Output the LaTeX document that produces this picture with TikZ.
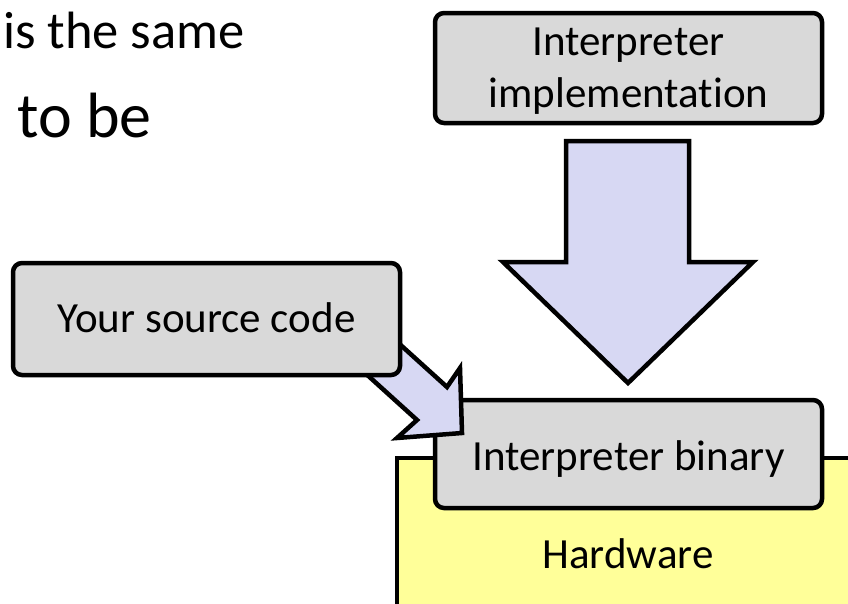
\documentclass[tikz,border=0pt]{standalone}
\usepackage{fontspec}
\setmainfont[Ligatures={NoCommon}]{Carlito}
\begin{document}
\begin{tikzpicture}[x=1pt,y=-1pt,
  box/.style={draw=black,line width=4.5pt,fill=boxgray,rounded corners=9pt,
    inner sep=0pt,align=center,font=\fontsize{43}{52}\selectfont},
  blockarrow/.style={draw=black,line width=4.5pt,fill=arrowblue,line join=miter},
  hw/.style={draw=black,line width=4.5pt,fill=hwyellow}]
\definecolor{boxgray}{HTML}{D9D9D9}
\definecolor{arrowblue}{HTML}{D7D8F3}
\definecolor{hwyellow}{HTML}{FFFF99}
\useasboundingbox (0,0) rectangle (848,603);
\clip (0,0) rectangle (848,603);
% top text
\node[anchor=base west,inner sep=0pt,font=\fontsize{52.5}{60}\selectfont] (t1) at (3,48) {is the same};
\node[anchor=base west,inner sep=0pt,font=\fontsize{64}{72}\selectfont] (t2) at (17,137) {to be};
% hardware
\draw[hw] (397,458) rectangle (880,640);
\node[inner sep=0pt,font=\fontsize{43}{52}\selectfont,anchor=base] (hwlabel) at (628,568) {Hardware};
% big arrow
\coordinate (ba1) at (566,141);
\coordinate (ba2) at (689,141);
\coordinate (ba3) at (689,262);
\coordinate (ba4) at (753,262);
\coordinate (ba5) at (628,383);
\coordinate (ba6) at (503,262);
\coordinate (ba7) at (566,262);
\draw[blockarrow] (ba1) -- (ba2) -- (ba3) -- (ba4) -- (ba5) -- (ba6) -- (ba7) -- cycle;
% interpreter binary
\node[box,minimum width=387pt,minimum height=108pt,text height=32pt,text depth=0pt] (bin) at (628.5,454) {Interpreter binary};
% small arrow
\coordinate (sa1) at (373,320);
\coordinate (sa2) at (447,387);
\coordinate (sa3) at (460,368);
\coordinate (sa4) at (462,433);
\coordinate (sa5) at (397,438);
\coordinate (sa6) at (417,420);
\coordinate (sa7) at (343,353);
\draw[blockarrow] (sa1) -- (sa2) -- (sa3) -- (sa4) -- (sa5) -- (sa6) -- (sa7) -- cycle;
% source box
\node[box,minimum width=387pt,minimum height=112pt,text height=30pt,text depth=4pt] (src) at (206.5,319) {Your source code};
% implementation
\node[box,minimum width=387pt,minimum height=110pt,text height=82pt,text depth=4pt] (impl) at (628.5,68) {Interpreter\\implementation};
\end{tikzpicture}
\end{document}
